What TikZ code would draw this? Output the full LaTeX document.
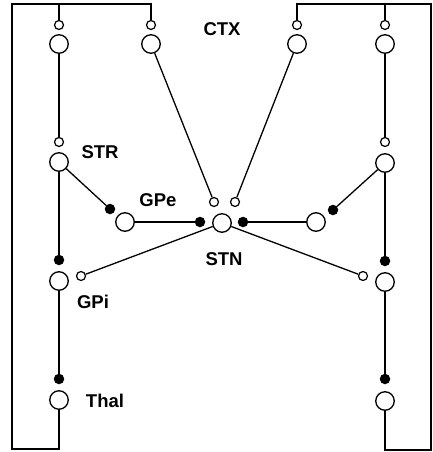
\documentclass[tikz,border=0pt]{standalone}
\usepackage{fontspec}
\setmainfont{Liberation Sans}
\begin{document}
\begin{tikzpicture}[x=1pt,y=-1pt,
  big/.style={circle,draw,line width=1.3pt,inner sep=0pt,minimum size=18.5pt,fill=white},
  small/.style={circle,draw,line width=1.2pt,inner sep=0pt,minimum size=9pt,fill=white},
  dot/.style={circle,fill=black,inner sep=0pt,minimum size=10.5pt},
  lab/.style={font=\fontsize{18.5}{18.5}\selectfont\bfseries,inner sep=0pt},
  wire/.style={line width=1.3pt}]
\useasboundingbox (0,0) rectangle (433,452);
% left side
\node[small] (ctxLs1) at (59,25) {};
\node[big]   (ctxLb1) at (59,44) {};
\node[small] (ctxLs2) at (151,25) {};
\node[big]   (ctxLb2) at (151,44) {};
\node[small] (strLs) at (59,142) {};
\node[big]   (strLb) at (59,162) {};
\node[dot]   (gpeLd) at (110,209) {};
\node[big]   (gpeLb) at (125,222) {};
\node[dot]   (stnLd) at (200,222) {};
\node[dot]   (gpiLd) at (59,260) {};
\node[big]   (gpiLb) at (59,281) {};
\node[small] (gpiLs) at (81,276) {};
\node[dot]   (thalLd) at (59,379) {};
\node[big]   (thalLb) at (59,400) {};
% centre
\node[small] (stnsL) at (214,202) {};
\node[small] (stnsR) at (235,202) {};
\node[big]   (stn) at (222,223) {};
% right side
\node[small] (ctxRs1) at (385,25) {};
\node[big]   (ctxRb1) at (385,44) {};
\node[small] (ctxRs2) at (297,25) {};
\node[big]   (ctxRb2) at (297,44) {};
\node[small] (strRs) at (385,142) {};
\node[big]   (strRb) at (385,163) {};
\node[dot]   (gpeRd) at (333,210) {};
\node[big]   (gpeRb) at (316,222) {};
\node[dot]   (stnRd) at (243,222) {};
\node[dot]   (gpiRd) at (385,261) {};
\node[big]   (gpiRb) at (385,282) {};
\node[small] (gpiRs) at (363,276) {};
\node[dot]   (thalRd) at (385,379) {};
\node[big]   (thalRb) at (385,401) {};
% labels
\node[lab] (lctx) at (222,29) {CTX};
\node[lab] (lstr) at (100,152) {STR};
\node[lab] (lgpe) at (158,200) {GPe};
\node[lab] (lstn) at (224,259) {STN};
\node[lab] (lgpi) at (93,302) {GPi};
\node[lab] (lthal) at (105,401) {Thal};
% frame coordinates
\coordinate (tL1) at (59,4);
\coordinate (bL) at (59,449);
\coordinate (cL) at (12,4);
\coordinate (tR1) at (385,4);
\coordinate (bR) at (385,450);
\coordinate (cR) at (431,4);
% connections
\draw[wire] (tL1) -- (ctxLs1);
\draw[wire] (thalLb) -- (bL) -| (cL) -| (ctxLs2);
\draw[wire] (tR1) -- (ctxRs1);
\draw[wire] (thalRb) -- (bR) -| (cR) -| (ctxRs2);
\draw[wire] (ctxLb1) -- (strLs);
\draw[wire] (ctxRb1) -- (strRs);
\draw[wire] (ctxLb2) -- (stnsL);
\draw[wire] (ctxRb2) -- (stnsR);
\draw[wire] (strLb) -- (gpeLd);
\draw[wire] (strRb) -- (gpeRd);
\draw[wire] (strLb) -- (gpiLd);
\draw[wire] (strRb) -- (gpiRd);
\draw[wire] (gpeLb) -- (stnLd);
\draw[wire] (gpeRb) -- (stnRd);
\draw[wire] (stn) -- (gpiLs);
\draw[wire] (stn) -- (gpiRs);
\draw[wire] (gpiLb) -- (thalLd);
\draw[wire] (gpiRb) -- (thalRd);
\end{tikzpicture}
\end{document}
